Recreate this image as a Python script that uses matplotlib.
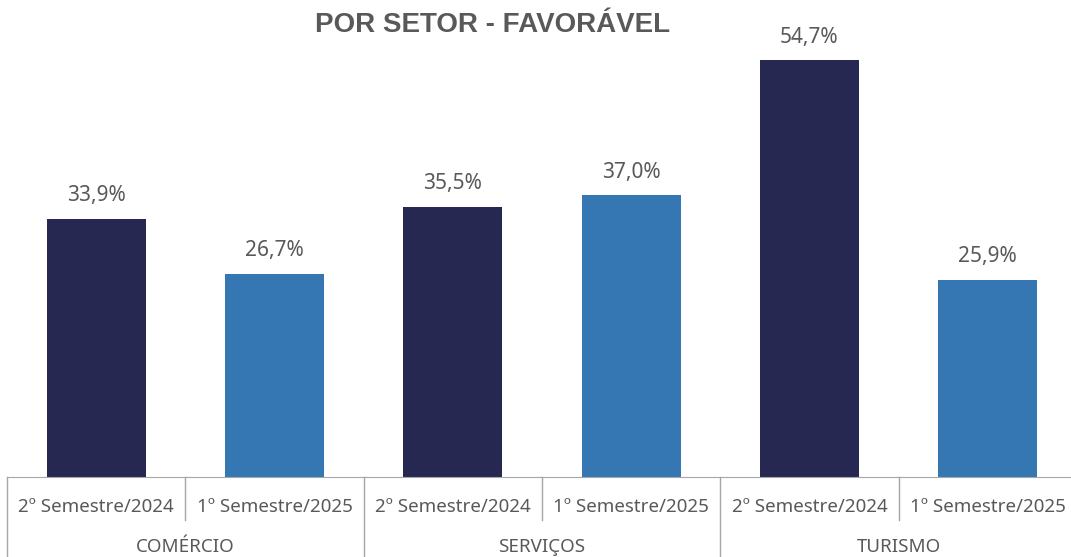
import matplotlib
matplotlib.use("Agg")
import matplotlib.pyplot as plt

plt.rcParams['font.family'] = ['Noto Sans', 'DejaVu Sans']

setores = ['COMÉRCIO', 'SERVIÇOS', 'TURISMO']
periodos = ['2º Semestre/2024', '1º Semestre/2025']
sem2_2024 = [33.9, 35.5, 54.7]
sem1_2025 = [26.7, 37.0, 25.9]

cor_escura = '#262852'
cor_clara = '#3577b3'
cinza_txt = '#595959'
cinza_linha = '#a6a6a6'

W, H = 1071, 557
fig = plt.figure(figsize=(W / 100, H / 100), dpi=100)
base_px, top_px = 477, 20
ax = fig.add_axes([7 / W, (H - base_px) / H, 1070 / W, (base_px - top_px) / H])

valores = []
cores = []
for a, b in zip(sem2_2024, sem1_2025):
    valores += [a, b]
    cores += [cor_escura, cor_clara]
xs = list(range(len(valores)))

ax.bar(xs, valores, width=0.555, color=cores, zorder=2)
for x, v in zip(xs, valores):
    ax.annotate(f'{v:.1f}%'.replace('.', ','), (x, v), xytext=(0, 9),
                textcoords='offset points', ha='center', va='bottom',
                fontsize=15, color=cinza_txt)

ax.set_xlim(-0.5, len(xs) - 0.5)
ax.set_ylim(0, 60)
for s in ['top', 'right', 'left']:
    ax.spines[s].set_visible(False)
ax.spines['bottom'].set_color(cinza_linha)
ax.set_xticks([])
ax.set_yticks([])

tr = ax.get_xaxis_transform()
alt = base_px - top_px
curto = -43 / alt
longo = -80 / alt
for i in range(len(xs) + 1):
    y0 = longo if i % 2 == 0 else curto
    ax.plot([i - 0.5, i - 0.5], [0, y0], transform=tr, color=cinza_linha,
            lw=1, clip_on=False)

for x in xs:
    ax.text(x, -30 / alt, periodos[x % 2], transform=tr, ha='center',
            va='center', fontsize=13.5, color=cinza_txt)
for g, nome in enumerate(setores):
    ax.text(2 * g + 0.5, -70 / alt, nome, transform=tr, ha='center',
            va='center', fontsize=13.5, color=cinza_txt)

fig.text(493 / W, 1 - 25 / H, 'POR SETOR - FAVORÁVEL', ha='center',
         va='center', fontsize=20, fontweight='bold', color=cinza_txt,
         family='Liberation Sans')

fig.savefig('out.png', dpi=100)
